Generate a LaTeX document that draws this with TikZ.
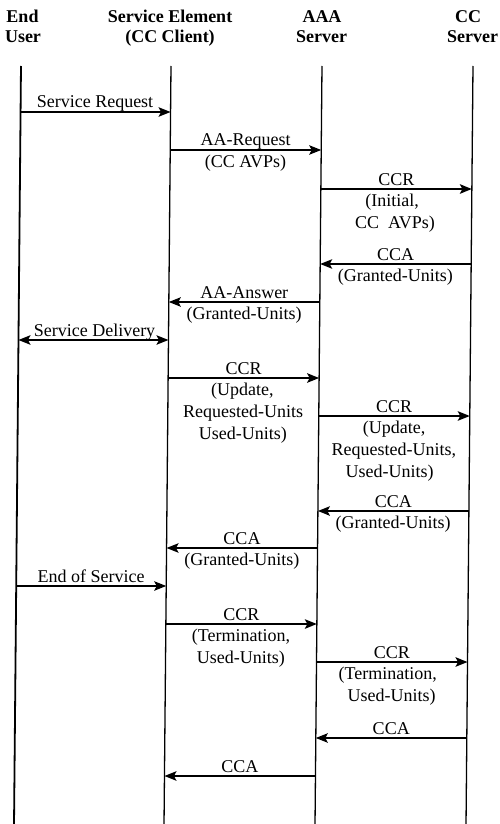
\documentclass[tikz,border=0pt]{standalone}
\usepackage{fontspec}
\setmainfont{Liberation Serif}
\usetikzlibrary{arrows.meta}
\tikzset{
  lifeline/.style={line width=1.3pt},
  tiphead/.tip={Stealth[length=12pt,width=9.5pt,inset=2.5pt]},
  msgline/.style={line width=1.5pt,-tiphead},
  biline/.style={line width=1.5pt,tiphead-tiphead},
  hdr/.style={font=\fontsize{18}{20}\selectfont\bfseries, inner sep=0pt, anchor=base},
  lbl/.style={font=\fontsize{18}{22}\selectfont, inner sep=0pt, anchor=base},
}
\newcommand\Msg[5]{% style, name, from x, to x, y
  \coordinate (#2s) at (#3,#5);
  \coordinate (#2e) at (#4,#5);
  \draw[#1] (#2s) -- (#2e);}
\begin{document}
\begin{tikzpicture}[x=1pt,y=-1pt]
\useasboundingbox (0,0) rectangle (499,824);
% headers
\node[hdr] (hEUa) at (22.5,23) {End};
\node[hdr] (hEUb) at (23,43) {User};
\node[hdr] (hSEa) at (170,23) {Service Element};
\node[hdr] (hSEb) at (170,43) {(CC Client)};
\node[hdr] (hAAa) at (322,23) {AAA};
\node[hdr] (hAAb) at (321.5,43) {Server};
\node[hdr] (hCCa) at (468,23) {CC};
\node[hdr] (hCCb) at (472.5,43) {Server};
\begin{scope}[xslant=0.0092]
% lifelines
\coordinate (euT) at (21.6,66);  \coordinate (euB) at (21.6,824);
\coordinate (seT) at (171.6,66); \coordinate (seB) at (171.6,824);
\coordinate (aaT) at (322.6,66); \coordinate (aaB) at (322.6,824);
\coordinate (ccT) at (473.6,66); \coordinate (ccB) at (473.6,824);
\draw[lifeline,line width=1.8pt] (euT) -- (euB);
\draw[lifeline] (seT) -- (seB);
\draw[lifeline] (aaT) -- (aaB);
\draw[lifeline] (ccT) -- (ccB);
% messages
\Msg{msgline}{m1}{21.6}{171.6}{112}
\node[lbl] (t1a) at (96,108) {Service Request};
\Msg{msgline}{m2}{171.6}{322.6}{150}
\node[lbl] (t2a) at (247,146) {AA-Request};
\node[lbl] (t2b) at (247,167.5) {(CC AVPs)};
\Msg{msgline}{m3}{322.6}{473.6}{189}
\node[lbl] (t3a) at (398,185) {CCR};
\node[lbl] (t3b) at (394,206.5) {(Initial,};
\node[lbl] (t3c) at (397,228.5) {CC\ \ AVPs)};
\Msg{msgline}{m4}{473.6}{322.6}{264}
\node[lbl] (t4a) at (398,260) {CCA};
\node[lbl] (t4b) at (398,281.5) {(Granted-Units)};
\Msg{msgline}{m5}{322.6}{171.6}{302}
\node[lbl] (t5a) at (247,298) {AA-Answer};
\node[lbl] (t5b) at (247,319.5) {(Granted-Units)};
\Msg{biline}{m6}{21.6}{171.6}{340}
\node[lbl] (t6a) at (97.6,336) {Service Delivery};
\Msg{msgline}{m7}{171.6}{322.6}{378}
\node[lbl] (t7a) at (247,374) {CCR};
\node[lbl] (t7b) at (246,395.5) {(Update,};
\node[lbl] (t7c) at (247,417.5) {Requested-Units};
\node[lbl] (t7d) at (247,439.5) {Used-Units)};
\Msg{msgline}{m8}{322.6}{473.6}{416}
\node[lbl] (t8a) at (398,412) {CCR};
\node[lbl] (t8b) at (398,433.5) {(Update,};
\node[lbl] (t8c) at (398,455.5) {Requested-Units,};
\node[lbl] (t8d) at (394,477.5) {Used-Units)};
\Msg{msgline}{m9}{473.6}{322.6}{511}
\node[lbl] (t9a) at (398,507) {CCA};
\node[lbl] (t9b) at (398,528.5) {(Granted-Units)};
\Msg{msgline}{m10}{322.6}{171.6}{548}
\node[lbl] (t10a) at (247,544) {CCA};
\node[lbl] (t10b) at (247,565.5) {(Granted-Units)};
\Msg{msgline}{m11}{21.6}{171.6}{586}
\node[lbl] (t11a) at (96.5,582) {End of Service};
\Msg{msgline}{m12}{171.6}{322.6}{624}
\node[lbl] (t12a) at (247,620) {CCR};
\node[lbl] (t12b) at (247,641.5) {(Termination,};
\node[lbl] (t12c) at (247,663.5) {Used-Units)};
\Msg{msgline}{m13}{322.6}{473.6}{662}
\node[lbl] (t13a) at (398,658) {CCR};
\node[lbl] (t13b) at (394,679.5) {(Termination,};
\node[lbl] (t13c) at (398,701.5) {Used-Units)};
\Msg{msgline}{m14}{473.6}{322.6}{738}
\node[lbl] (t14a) at (398,734) {CCA};
\Msg{msgline}{m15}{322.6}{171.6}{776}
\node[lbl] (t15a) at (247,772) {CCA};
\end{scope}
\end{tikzpicture}
\end{document}
